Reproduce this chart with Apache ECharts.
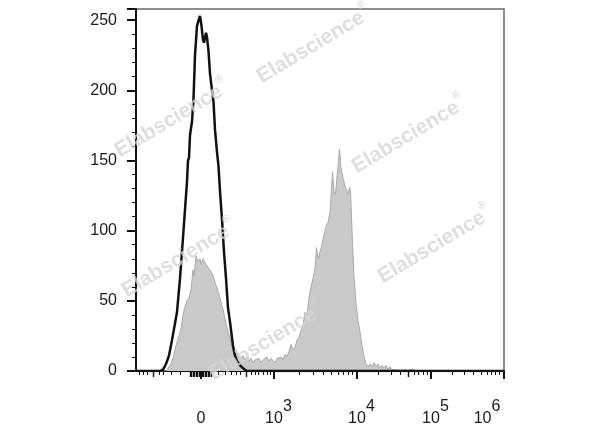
<!DOCTYPE html>
<html>
<head>
<meta charset="utf-8">
<script src="https://cdn.jsdelivr.net/npm/echarts@6/dist/echarts.min.js"></script>
<style>
  html, body { margin: 0; padding: 0; background: #fff; }
  #chart { width: 600px; height: 427px; }
</style>
</head>
<body>
<div id="chart"></div>
<script>
// ---- data (x in display channels of the biexponential axis, y in counts) ----
const xMin = 0;
const xMax = 736;
const xTickValues = [130, 276, 442, 590, 736];
const xTickLabels = ['0', '10^3', '10^4', '10^5', '10^6'];
const xMinorTicks = [6, 14, 22, 46, 54, 70, 88,
  164, 178, 190, 200, 208, 230, 238, 244, 254, 262, 268,
  326, 354, 374, 390, 404, 414, 424, 432,
  484, 510, 528, 556, 564, 574, 582,
  632, 656, 674, 690, 702, 710, 718, 726];
const xMediumTicks = [34, 220, 544,
  108, 111, 114, 117, 120, 123, 126, 129, 132, 135, 138, 141, 144, 147, 150];
const yMax = 258;
const yInterval = 50;

// isotype control (black outline)
const controlCounts = [
  [0, 0], [48, 0], [54, 1], [60, 5], [66, 11], [72, 22], [78, 34], [82, 42], [88, 66],
  [94, 95], [98, 115], [102, 135], [104, 150], [106, 152], [108, 168], [112, 178],
  [115, 194], [118, 225], [122, 246], [126, 251], [128, 253], [131, 246], [134, 236],
  [136, 234], [140, 241], [142, 238], [145, 228], [148, 212], [152, 200], [155, 192],
  [158, 172], [162, 156], [165, 146], [168, 128], [172, 108], [176, 85], [180, 66],
  [184, 45], [188, 35], [194, 18], [198, 11], [202, 7], [208, 4], [214, 2], [221, 0],
  [736, 0]
];

// stained sample (grey filled)
const stainedCounts = [
  [0, 0], [60, 0], [68, 4], [74, 9], [80, 18], [86, 25], [90, 30], [94, 40], [98, 46],
  [102, 50], [106, 52], [110, 58], [114, 72], [116, 68], [120, 82], [124, 78], [128, 80],
  [130, 76], [134, 80], [138, 77], [142, 75], [146, 73], [150, 71], [154, 68], [158, 63],
  [162, 59], [166, 55], [170, 49], [174, 44], [178, 37], [182, 31], [186, 26], [190, 20],
  [194, 14], [198, 10], [202, 13], [206, 12], [210, 9], [214, 11], [218, 8], [222, 10],
  [226, 7], [230, 9], [234, 6], [238, 8], [242, 7], [246, 9], [250, 6], [254, 8],
  [258, 7], [262, 10], [266, 7], [270, 9], [274, 8], [278, 6], [282, 9], [286, 8],
  [290, 10], [294, 8], [298, 12], [302, 10], [306, 14], [310, 19], [314, 15], [318, 17],
  [322, 22], [326, 24], [330, 29], [334, 33], [338, 42], [342, 40], [346, 52], [350, 60],
  [354, 66], [358, 73], [361, 88], [364, 80], [368, 81], [372, 90], [376, 97], [380, 103],
  [384, 106], [388, 113], [391, 130], [393, 142], [396, 128], [399, 126], [402, 138],
  [405, 150], [407, 158], [410, 145], [412, 141], [415, 136], [418, 132], [421, 129],
  [424, 126], [427, 131], [429, 128], [432, 100], [436, 68], [440, 48], [444, 36],
  [448, 28], [452, 18], [456, 10], [460, 5], [464, 3], [468, 5], [472, 3], [476, 6],
  [480, 3], [484, 5], [488, 2], [492, 4], [496, 2], [500, 4], [504, 1], [508, 3],
  [512, 1], [516, 2], [520, 1], [524, 2], [528, 0.5], [536, 1], [544, 0.5], [552, 1.5],
  [560, 0], [736, 0]
];

const watermarkText = 'Elabscience';
const watermarkCenters = [[313, 43], [171, 117], [408, 133], [178, 257], [434, 243], [265, 340]];

// ---- chart ----
const chart = echarts.init(document.getElementById('chart'), null, { renderer: 'canvas' });
const FONT = '"Liberation Sans", Arial, sans-serif';
const TXT = '#1a1a1a';
const FS = 16;

function xLabel(val) {
  const i = xTickValues.indexOf(val);
  if (i < 0) return '';
  const t = xTickLabels[i];
  if (t.indexOf('^') < 0) return '{b|' + t + '}';
  const parts = t.split('^');
  if (i === xTickValues.length - 1) return '{b|' + parts[0] + '}{sl|' + parts[1] + '}';
  return '{p|' + parts[1] + '}{b|' + parts[0] + '}{s|' + parts[1] + '}';
}

const baseX = {
  type: 'value', min: xMin, max: xMax, position: 'bottom',
  splitLine: { show: false }, axisLabel: { show: false },
  axisLine: { show: false }, axisTick: { show: false }
};

const option = {
  animation: false,
  backgroundColor: '#fff',
  grid: {
    left: 136, right: 96, top: 9, bottom: 55,
    show: true, borderColor: '#6a6a6a', borderWidth: 1.5, backgroundColor: 'transparent'
  },
  xAxis: [
    Object.assign({}, baseX, {
      axisLine: { show: true, onZero: false, lineStyle: { color: '#111', width: 2 } },
      axisTick: { show: true, inside: false, length: 8, customValues: xTickValues,
        lineStyle: { color: '#111', width: 2 } },
      axisLabel: {
        show: true, customValues: xTickValues, margin: 28, formatter: xLabel,
        rich: {
          b: { fontSize: FS, fontFamily: FONT, color: TXT, lineHeight: 28, verticalAlign: 'bottom' },
          s: { fontSize: FS, fontFamily: FONT, color: TXT, lineHeight: 28, verticalAlign: 'top' },
          sl: { fontSize: FS, fontFamily: FONT, color: TXT, lineHeight: 28, verticalAlign: 'top', padding: [0, 34, 0, 0] },
          p: { fontSize: FS, fontFamily: FONT, color: 'rgba(0,0,0,0)', lineHeight: 28, verticalAlign: 'top' }
        }
      }
    }),
    Object.assign({}, baseX, {
      axisTick: { show: true, length: 4, customValues: xMinorTicks, lineStyle: { color: '#111', width: 1 } }
    }),
    Object.assign({}, baseX, {
      axisTick: { show: true, length: 6, customValues: xMediumTicks, lineStyle: { color: '#111', width: 1.4 } }
    })
  ],
  yAxis: {
    type: 'value', min: 0, max: yMax, interval: yInterval,
    splitLine: { show: false },
    axisLine: { show: true, lineStyle: { color: '#111', width: 2 } },
    axisTick: { show: true, length: 9, lineStyle: { color: '#111', width: 2 } },
    minorTick: { show: true, splitNumber: 5, length: 4, lineStyle: { color: '#111', width: 1 } },
    axisLabel: { fontSize: FS, fontFamily: FONT, color: TXT, margin: 19,
      showMaxLabel: false }
  },
  series: [
    {
      name: 'Stained', type: 'line', xAxisIndex: 0, data: stainedCounts, symbol: 'none',
      lineStyle: { color: '#a9a9a9', width: 1 },
      areaStyle: { color: '#c9c9c9', opacity: 1 }, z: 2
    },
    {
      name: 'Isotype', type: 'line', xAxisIndex: 0, data: controlCounts, symbol: 'none',
      lineStyle: { color: '#111', width: 2.5 }, z: 3
    }
  ],
  graphic: watermarkCenters.map(function (c) {
    return {
      type: 'text', x: c[0], y: c[1], rotation: 0.54, z: 100, silent: true,
      style: {
        text: '{a|' + watermarkText + '}{r|®}',
        align: 'center', verticalAlign: 'middle',
        rich: {
          a: { fontSize: 21, fontWeight: 'bold', fontFamily: FONT, fill: 'rgba(214,214,214,0.8)', verticalAlign: 'bottom', lineHeight: 26 },
          r: { fontSize: 11, fontWeight: 'bold', fontFamily: FONT, fill: 'rgba(214,214,214,0.8)', verticalAlign: 'top', lineHeight: 26 }
        }
      }
    };
  })
};
chart.setOption(option);
</script>
</body>
</html>
